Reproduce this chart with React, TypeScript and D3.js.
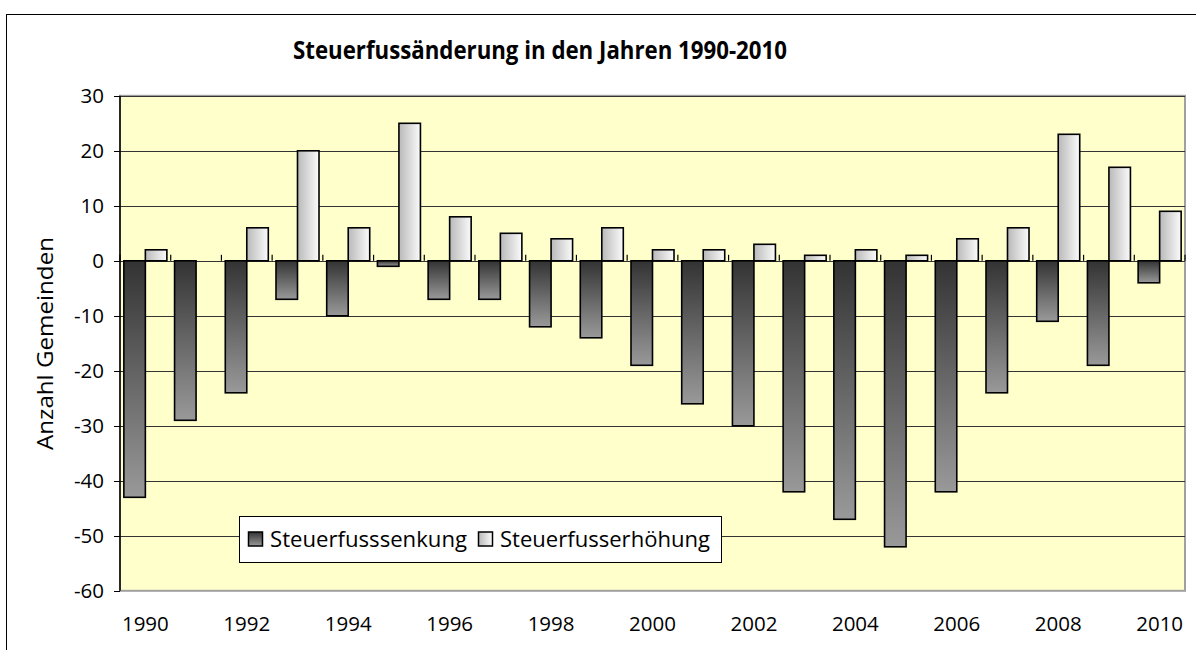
import React from "react";
import * as d3 from "d3";

const years = ["1990","1991","1992","1993","1994","1995","1996","1997","1998","1999","2000","2001","2002","2003","2004","2005","2006","2007","2008","2009","2010"];
const senkung = [-43,-29,-24,-7,-10,-1,-7,-7,-12,-14,-19,-26,-30,-42,-47,-52,-42,-24,-11,-19,-4];
const erhoehung = [2,0,6,20,6,25,8,5,4,6,2,2,3,1,2,1,4,6,23,17,9];
const yTicks = [30,20,10,0,-10,-20,-30,-40,-50,-60];
const xLabels = ["1990","1992","1994","1996","1998","2000","2002","2004","2006","2008","2010"];
const seriesNames = ["Steuerfusssenkung","Steuerfusserhöhung"];

const W = 1196, H = 650;
const plot = { left: 120, right: 1185, top: 95.8, bottom: 590.8 };
const FONT = "'Open Sans', sans-serif";

export default function App() {
  const x = d3.scaleBand<string>().domain(years).range([plot.left, plot.right]).paddingInner(0).paddingOuter(0);
  const x1 = d3.scaleBand<string>().domain(["s","e"]).range([0, x.bandwidth()]).paddingInner(0).paddingOuter(0.179);
  const y = d3.scaleLinear().domain([-60, 30]).range([plot.bottom, plot.top]);
  const y0 = y(0);

  const bar = (key: string, vals: number[], fill: string) =>
    years.map((yr, i) => {
      const v = vals[i];
      if (v === 0) return null;
      const bx = (x(yr) as number) + (x1(key) as number);
      const top = Math.min(y(v), y0);
      const h = Math.abs(y(v) - y0);
      return <rect key={key + yr} x={bx} y={top} width={x1.bandwidth()} height={h} fill={fill} stroke="#000" strokeWidth={1.6} />;
    });

  const boundaries = d3.range(years.length + 1).map(i => plot.left + i * x.step());

  return (
    <svg width={W} height={H} style={{ position: "absolute", left: 0, top: 0, background: "#fff" }} fontFamily={FONT}>
      <defs>
        <linearGradient id="gDark" x1="0" y1="0" x2="0" y2="1">
          <stop offset="0" stopColor="#333333" />
          <stop offset="1" stopColor="#999999" />
        </linearGradient>
        <linearGradient id="gLight" x1="0" y1="0" x2="1" y2="0">
          <stop offset="0" stopColor="#b9b9b9" />
          <stop offset="1" stopColor="#fbfbfb" />
        </linearGradient>
      </defs>
      <rect x={6.5} y={14.5} width={1300} height={800} fill="#fff" stroke="#000" strokeWidth={1} />
      <text x={540} y={59} textAnchor="middle" fontSize={24.5} fontWeight="bold" textLength={494} lengthAdjust="spacingAndGlyphs">Steuerfussänderung in den Jahren 1990-2010</text>

      <rect x={plot.left} y={plot.top} width={plot.right - plot.left} height={plot.bottom - plot.top} fill="#ffffcc" stroke="#a0a0a0" strokeWidth={2} />
      {yTicks.filter(t => t !== -60).map(t => (
        <line key={"g" + t} x1={plot.left} x2={plot.right} y1={Math.round(y(t)) + 0.5} y2={Math.round(y(t)) + 0.5} stroke="#333" strokeWidth={1} />
      ))}
      {boundaries.map((bx, i) => (
        <line key={"xt" + i} x1={bx} x2={bx} y1={y0 - 6} y2={y0} stroke="#000" strokeWidth={1.2} />
      ))}
      {bar("s", senkung, "url(#gDark)")}
      {bar("e", erhoehung, "url(#gLight)")}
      <line x1={plot.left} x2={plot.left} y1={plot.top} y2={plot.bottom} stroke="#000" strokeWidth={1.5} />
      {yTicks.map(t => (
        <g key={"yt" + t}>
          <line x1={plot.left - 6} x2={plot.left} y1={Math.round(y(t)) + 0.5} y2={Math.round(y(t)) + 0.5} stroke="#000" strokeWidth={1} />
          <text x={104} y={y(t)} dy="0.36em" textAnchor="end" fontSize={20.5}>{t}</text>
        </g>
      ))}
      {xLabels.map(l => (
        <text key={"xl" + l} x={(x(l) as number) + x.bandwidth() / 2} y={630.5} textAnchor="middle" fontSize={20.5}>{l}</text>
      ))}
      <text transform={`translate(53,343.5) rotate(-90)`} textAnchor="middle" fontSize={21.5} textLength={213} lengthAdjust="spacingAndGlyphs">Anzahl Gemeinden</text>

      <rect x={239.5} y={516.5} width={482} height={46} fill="#fff" stroke="#000" strokeWidth={1} />
      <rect x={248.5} y={532} width={14} height={14} fill="url(#gDark)" stroke="#000" strokeWidth={1.5} />
      <text x={270} y={546.5} fontSize={21.5} textLength={197} lengthAdjust="spacingAndGlyphs">{seriesNames[0]}</text>
      <rect x={478.5} y={532} width={14} height={14} fill="url(#gLight)" stroke="#000" strokeWidth={1.5} />
      <text x={500} y={546.5} fontSize={21.5} textLength={210} lengthAdjust="spacingAndGlyphs">{seriesNames[1]}</text>
    </svg>
  );
}
